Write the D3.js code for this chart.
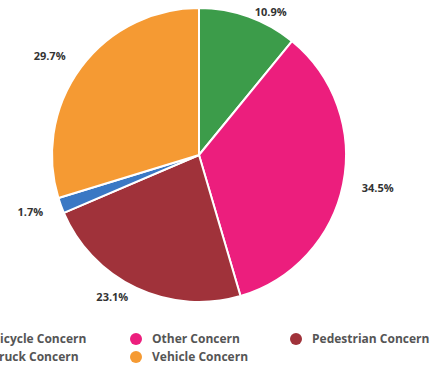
<!DOCTYPE html>
<html><head><meta charset="utf-8">
<script src="https://cdn.jsdelivr.net/npm/d3@7"></script>
<style>body{margin:0;background:#fff;}svg{display:block;}</style>
</head><body>
<svg id="c" width="433" height="366"></svg>
<script>
const categories = ["Truck Concern","Other Concern","Pedestrian Concern","Bicycle Concern","Vehicle Concern"];
const values = [10.9, 34.5, 23.1, 1.7, 29.7];
const colors = ["#3c9c4a","#ec1e7d","#a0323a","#3a78c4","#f59a33"];
const legendOrder = ["Bicycle Concern","Other Concern","Pedestrian Concern","Truck Concern","Vehicle Concern"];

const svg = d3.select("#c");
const cx = 199, cy = 155, R = 147;
const color = d3.scaleOrdinal().domain(categories).range(colors);
const data = categories.map((c,i)=>({cat:c, v:values[i]}));
const pie = d3.pie().value(d=>d.v).sort(null);
const arcs = pie(data);
const arc = d3.arc().innerRadius(0).outerRadius(R);
const g = svg.append("g").attr("transform",`translate(${cx},${cy})`);
g.selectAll("path").data(arcs).join("path")
  .attr("d",arc).attr("fill",d=>color(d.data.cat))
  .attr("stroke","#fff").attr("stroke-width",2).attr("stroke-linejoin","round");

const labelR = R + 19;
g.selectAll("text.lbl").data(arcs).join("text").attr("class","lbl")
  .each(function(d){
    const a = (d.startAngle+d.endAngle)/2;
    const x = labelR*Math.sin(a);
    let y = -labelR*Math.cos(a);
    y = Math.max(12-cy, Math.min(297-cy, y));
    d3.select(this).attr("x",x).attr("y",y)
      .attr("text-anchor", x>=0?"start":"end");
  })
  .attr("dy","0.35em")
  .attr("font-family","'Open Sans', sans-serif").attr("font-weight",700)
  .attr("font-size",11).attr("fill","#333")
  .text(d=>d.data.v.toFixed(1)+"%");

const leg = svg.append("g");
const colX = d3.scalePoint().domain([0,1,2]).range([-24,296]);
legendOrder.forEach((c,i)=>{
  const col = i%3, row = Math.floor(i/3);
  const x = colX(col), y = 339 + row*18;
  leg.append("circle").attr("cx",x).attr("cy",y).attr("r",6).attr("fill",color(c));
  leg.append("text").attr("x",x+16).attr("y",y).attr("dy","0.35em")
    .attr("font-family","'Open Sans', sans-serif").attr("font-weight",700)
    .attr("font-size",12).attr("fill","#555").text(c);
});
</script>
</body></html>
